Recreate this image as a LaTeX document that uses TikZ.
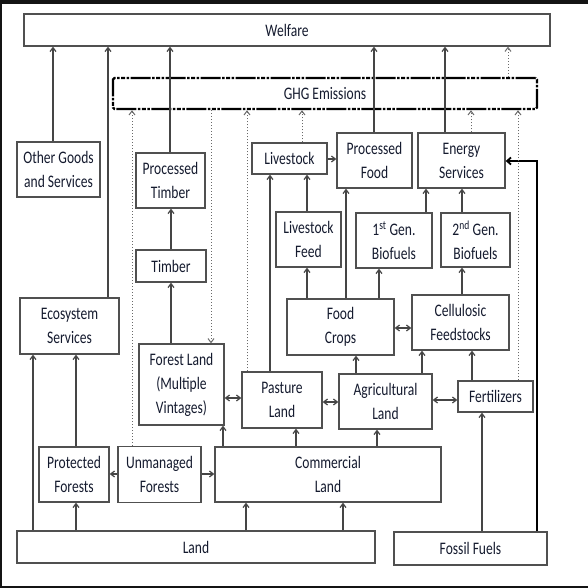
\documentclass[tikz,border=0pt]{standalone}
\usepackage{fontspec}
\newfontfamily\lab{Carlito}[FakeStretch=0.77]
\usetikzlibrary{arrows.meta}
\definecolor{txt}{HTML}{141A2E}
\definecolor{edge}{HTML}{505050}
\definecolor{ln}{HTML}{454545}
\tikzset{
  box/.style={draw=edge, line width=1.3pt, inner sep=0pt, align=center, text=txt,
    font={\lab\fontsize{17.6}{24}\selectfont}},
  ghgbox/.style={draw=black, line width=2.4pt, rounded corners=1.5pt, inner sep=0pt, text=txt,
    font={\lab\fontsize{17.6}{24}\selectfont},
    dash pattern=on 20pt off 1.5pt on 2.5pt off 1.5pt on 4pt off 1.5pt on 2.5pt off 1.5pt},
  arr/.style={draw=ln, line width=1.2pt, -{Straight Barb[length=4pt,width=6pt]}},
  dbl/.style={draw=ln, line width=1.2pt, {Straight Barb[length=4pt,width=6pt]}-{Straight Barb[length=4pt,width=6pt]}},
  dotarr/.style={draw=ln!80, line width=1pt, dash pattern=on 1pt off 2pt, -{Straight Barb[length=4pt,width=6pt]}},
  thickarr/.style={draw=black, line width=1.8pt, -{Straight Barb[length=4pt,width=7pt]}},
}
\begin{document}
\begin{tikzpicture}[x=1pt,y=-1pt]
\useasboundingbox (0,0) rectangle (588,588);
% frame
\fill[black!92] (0,0) rectangle (588,4);
\fill[black!92] (0,0) rectangle (2,588);
\fill[black!92] (0,586) rectangle (588,588);

% boxes
\node[box, minimum width=526pt, minimum height=32pt] (welfare) at (287,30) {Welfare};
\node[ghgbox, minimum width=424pt, minimum height=31pt] (ghg) at (325,93.5) {GHG Emissions};
\node[box, minimum width=83pt, minimum height=55pt] (other) at (58.5,169.5) {Other Goods\\and Services};
\node[box, minimum width=69pt, minimum height=55pt] (ptimber) at (170.5,180.5) {Processed\\Timber};
\node[box, minimum width=70pt, minimum height=32pt] (timber) at (171,266) {Timber};
\node[box, minimum width=75pt, minimum height=31pt] (livestock) at (289.5,158.5) {Livestock};
\node[box, minimum width=75pt, minimum height=55pt] (pfood) at (374.5,160.5) {Processed\\Food};
\node[box, minimum width=87pt, minimum height=55pt] (energy) at (461.5,160.5) {Energy\\Services};
\node[box, minimum width=65pt, minimum height=55pt] (lfeed) at (308.5,239.5) {Livestock\\Feed};
\node[box, minimum width=76pt, minimum height=55pt] (bio1) at (394,240.5) {1\textsuperscript{st} Gen.\\Biofuels};
\node[box, minimum width=69pt, minimum height=54pt] (bio2) at (475.5,240) {2\textsuperscript{nd}\,Gen.\\Biofuels};
\node[box, minimum width=99pt, minimum height=56pt] (eco) at (69.5,326) {Ecosystem\\Services};
\node[box, minimum width=107pt, minimum height=56pt] (food) at (340.5,327) {Food\\Crops};
\node[box, minimum width=97pt, minimum height=55pt] (cell) at (460.5,322.5) {Cellulosic\\Feedstocks};
\node[box, minimum width=85pt, minimum height=81pt] (forest) at (181.5,384.5) {Forest Land\\(Multiple\\Vintages)};
\node[box, minimum width=80pt, minimum height=56pt] (pasture) at (282,400) {Pasture\\Land};
\node[box, minimum width=93pt, minimum height=55pt] (agri) at (385.5,401.5) {Agricultural\\Land};
\node[box, minimum width=75pt, minimum height=31pt] (fert) at (495.5,396.5) {Fertilizers};
\node[box, minimum width=70pt, minimum height=55pt] (protected) at (74,474.5) {Protected\\Forests};
\node[box, minimum width=83pt, minimum height=56pt] (unmanaged) at (159.5,474.5) {Unmanaged\\Forests};
\node[box, minimum width=226pt, minimum height=55pt] (commercial) at (328,474.5) {Commercial\\Land};
\node[box, minimum width=358pt, minimum height=32pt] (land) at (196,547) {Land};
\node[box, minimum width=153pt, minimum height=33pt] (fossil) at (470.5,548.5) {Fossil Fuels};

% column / row helpers
\foreach \x in {33,53,76,108,132,170,171,211,223,246,247,270,296,302,307,343,346,356,374,377,379,422,426,445,462,471,472,482,508,518,537}
  \coordinate (c\x) at (\x,0);
\foreach \y in {159,161,328,398,400,402,474}
  \coordinate (r\y) at (0,\y);

% solid arrows
\draw[arr] (other.north -| c53) -- (welfare.south -| c53);
\draw[arr] (eco.north -| c108) -- (welfare.south -| c108);
\draw[arr] (ptimber.north -| c170) -- (welfare.south -| c170);
\draw[arr] (timber.north -| c171) -- (ptimber.south -| c171);
\draw[arr] (forest.north -| c171) -- (timber.south -| c171);
\draw[arr] (pasture.north -| c270) -- (livestock.south -| c270);
\draw[arr] (livestock.east |- r159) -- (pfood.west |- r159);
\draw[arr] (lfeed.north -| c307) -- (livestock.south -| c307);
\draw[arr] (food.north -| c307) -- (lfeed.south -| c307);
\draw[arr] (food.north -| c346) -- (pfood.south -| c346);
\draw[arr] (food.north -| c379) -- (bio1.south -| c379);
\draw[arr] (bio1.north -| c426) -- (energy.south -| c426);
\draw[arr] (bio2.north -| c462) -- (energy.south -| c462);
\draw[arr] (cell.north -| c462) -- (bio2.south -| c462);
\draw[arr] (pfood.north -| c374) -- (welfare.south -| c374);
\draw[arr] (energy.north -| c445) -- (welfare.south -| c445);
\draw[arr] (agri.north -| c356) -- (food.south -| c356);
\draw[arr] (agri.north -| c422) -- (cell.south -| c422);
\draw[arr] (fert.north -| c472) -- (cell.south -| c472);
\draw[arr] (fossil.north -| c482) -- (fert.south -| c482);
\draw[thickarr] (fossil.north -| c537) |- (energy.east |- r161);
\draw[arr] (commercial.north -| c223) -- (forest.south -| c223);
\draw[arr] (commercial.north -| c296) -- (pasture.south -| c296);
\draw[arr] (commercial.north -| c377) -- (agri.south -| c377);
\draw[arr] (unmanaged.west |- r474) -- (protected.east |- r474);
\draw[arr] (unmanaged.east |- r474) -- (commercial.west |- r474);
\draw[arr] (land.north -| c76) -- (protected.south -| c76);
\draw[arr] (land.north -| c246) -- (commercial.south -| c246);
\draw[arr] (land.north -| c343) -- (commercial.south -| c343);
\draw[arr] (land.north -| c33) -- (eco.south -| c33);
\draw[arr] (protected.north -| c76) -- (eco.south -| c76);

% double arrows
\draw[dbl] (forest.east |- r398) -- (pasture.west |- r398);
\draw[dbl] (pasture.east |- r402) -- (agri.west |- r402);
\draw[dbl] (agri.east |- r400) -- (fert.west |- r400);
\draw[dbl] (food.east |- r328) -- (cell.west |- r328);

% dotted arrows
\draw[dotarr] (ghg.north -| c508) -- (welfare.south -| c508);
\draw[dotarr] (unmanaged.north -| c132) -- (ghg.south -| c132);
\draw[dotarr] (ghg.south -| c211) -- (forest.north -| c211);
\draw[dotarr] (pasture.north -| c247) -- (ghg.south -| c247);
\draw[dotarr] (livestock.north -| c302) -- (ghg.south -| c302);
\draw[dotarr] (energy.north -| c471) -- (ghg.south -| c471);
\draw[dotarr] (fert.north -| c518) -- (ghg.south -| c518);
\end{tikzpicture}
\end{document}
